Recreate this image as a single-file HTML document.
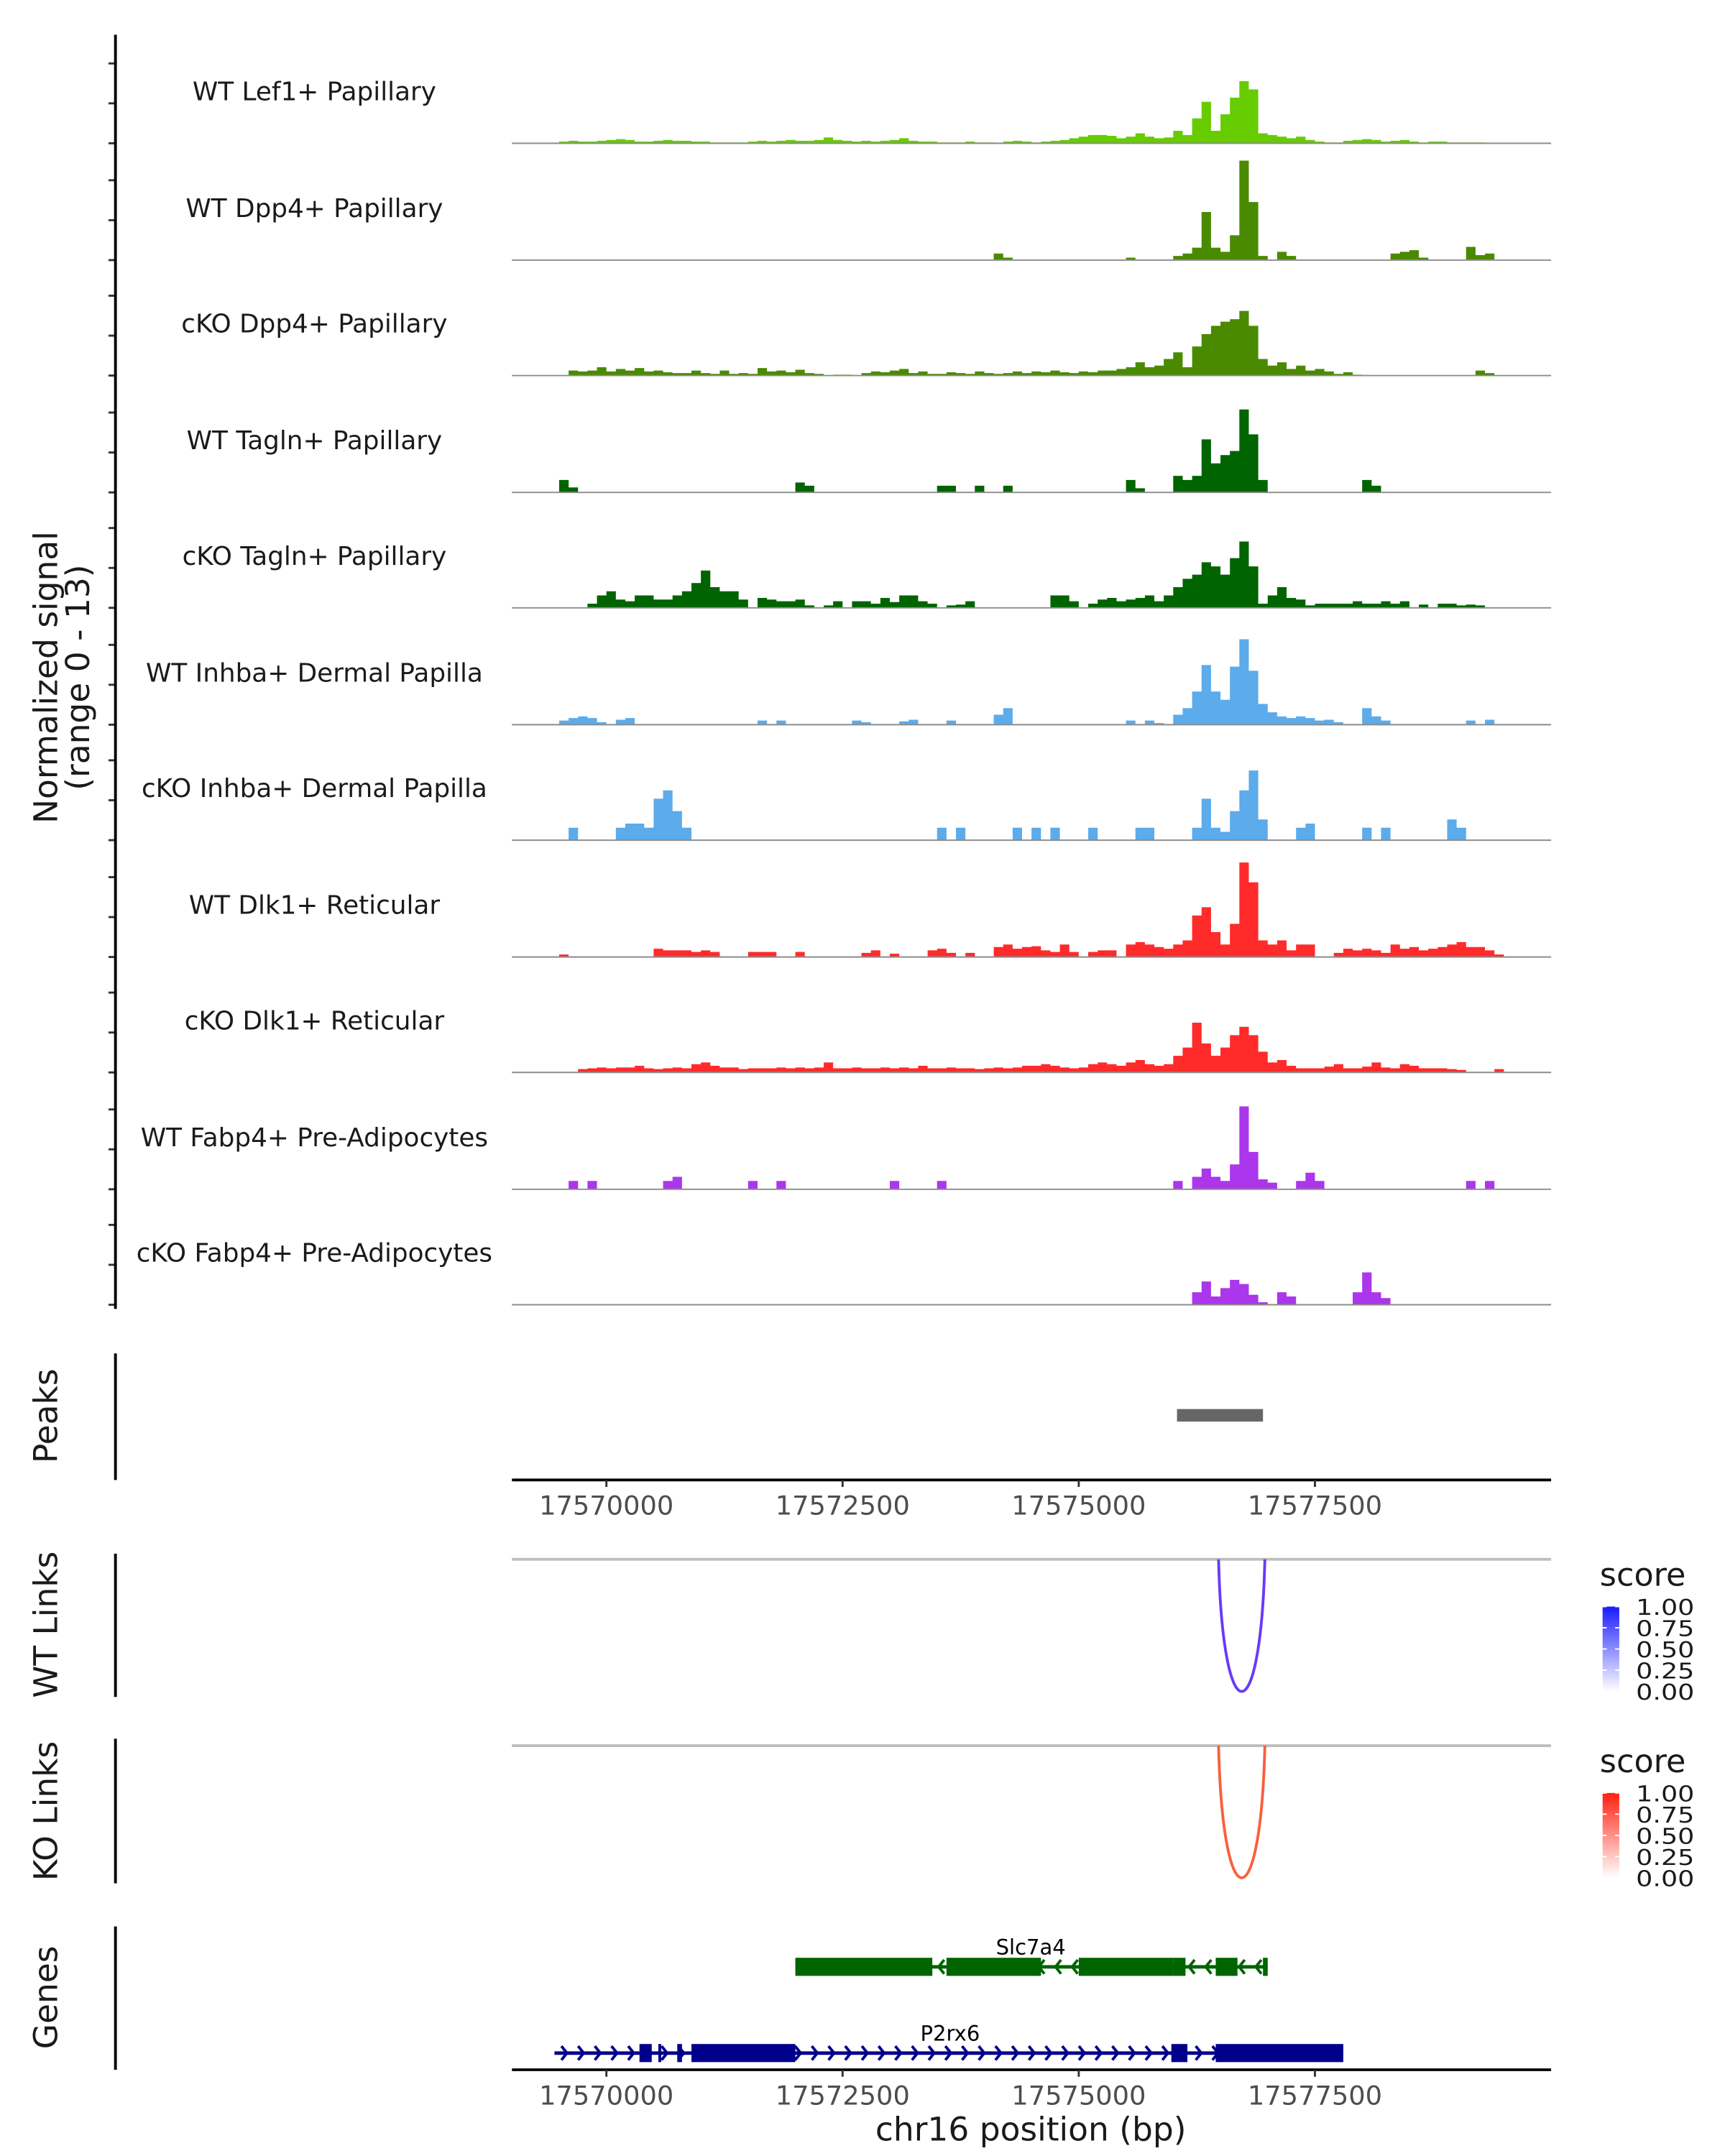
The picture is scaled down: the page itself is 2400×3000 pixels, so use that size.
<!DOCTYPE html>
<html><head><meta charset="utf-8">
<style>
html,body{margin:0;padding:0;background:#fff;}
svg{display:block;}
text{font-family:"DejaVu Sans","Liberation Sans",sans-serif;}
</style></head>
<body>
<svg id="chart" xmlns="http://www.w3.org/2000/svg" width="2400" height="3000" viewBox="0 0 1240 1550">
<g id="tracks"></g>
<g id="axes"></g>
<g id="genes"></g>
<defs>
<linearGradient id="gblue" x1="0" y1="1" x2="0" y2="0"><stop offset="0" stop-color="#ffffff"/><stop offset="1" stop-color="#1a1aff"/></linearGradient>
<linearGradient id="gred" x1="0" y1="1" x2="0" y2="0"><stop offset="0" stop-color="#ffffff"/><stop offset="1" stop-color="#ff2010"/></linearGradient>
</defs>
</svg>
<script>
// ---- data ----
const xStart = 17569000, xEnd = 17580000, binSize = 100;
const trackNames = ["WT Lef1+ Papillary","WT Dpp4+ Papillary","cKO Dpp4+ Papillary","WT Tagln+ Papillary","cKO Tagln+ Papillary","WT Inhba+ Dermal Papilla","cKO Inhba+ Dermal Papilla","WT Dlk1+ Reticular","cKO Dlk1+ Reticular","WT Fabp4+ Pre-Adipocytes","cKO Fabp4+ Pre-Adipocytes"];
const trackColors = ["#66cc00","#4a8a00","#4a8a00","#006400","#006400","#5cabea","#5cabea","#ff2a2a","#ff2a2a","#ab36ec","#ab36ec"];
const xTicks = [17570000,17572500,17575000,17577500];
const yMax = 13;
// sparse signal: bin index -> value
const sigLef1WT = {5:0.2,6:0.3,7:0.2,8:0.2,9:0.3,10:0.4,11:0.5,12:0.4,13:0.2,14:0.2,15:0.3,16:0.4,17:0.3,18:0.3,19:0.2,20:0.2,21:0.1,22:0.1,23:0.1,24:0.1,25:0.2,26:0.3,27:0.2,28:0.3,29:0.4,30:0.3,31:0.3,32:0.4,33:0.7,34:0.4,35:0.3,36:0.2,37:0.3,38:0.2,39:0.3,40:0.4,41:0.6,42:0.3,43:0.2,44:0.2,45:0.1,46:0.1,47:0.1,48:0.2,49:0.1,50:0.1,52:0.2,53:0.3,54:0.2,55:0.1,56:0.2,57:0.3,58:0.4,59:0.6,60:0.8,61:1.0,62:1.0,63:0.9,64:0.6,65:0.8,66:1.2,67:0.8,68:0.6,69:0.7,70:1.5,71:1.0,72:3.0,73:5.0,74:1.5,75:3.5,76:5.5,77:7.5,78:6.5,79:1.2,80:1.0,81:0.8,82:0.6,83:0.8,84:0.4,85:0.2,86:0.1,87:0.1,88:0.3,89:0.4,90:0.5,91:0.4,92:0.2,93:0.3,94:0.4,95:0.2,96:0.1,97:0.2,98:0.2,99:0.1,100:0.1,101:0.1,102:0.1};
const sigDpp4WT = {51:0.8,52:0.3,65:0.3,70:0.5,71:0.8,72:1.5,73:5.8,74:1.5,75:1.0,76:3.0,77:12,78:7,79:0.5,81:1.0,82:0.5,93:0.8,94:1.0,95:1.2,96:0.3,101:1.6,102:0.6,103:0.8};
const sigDpp4KO = {6:0.6,7:0.5,8:0.6,9:1.0,10:0.5,11:0.8,12:0.6,13:0.9,14:0.5,15:0.6,16:0.4,17:0.3,18:0.3,19:0.6,20:0.3,21:0.2,22:0.6,23:0.2,24:0.3,25:0.2,26:0.9,27:0.5,28:0.6,29:0.4,30:0.7,31:0.3,32:0.2,34:0.1,35:0.1,37:0.3,38:0.5,39:0.4,40:0.6,41:0.8,42:0.3,43:0.5,44:0.2,45:0.2,46:0.4,47:0.3,48:0.2,49:0.5,50:0.3,51:0.2,52:0.3,53:0.5,54:0.3,55:0.5,56:0.4,57:0.6,58:0.4,59:0.3,60:0.5,61:0.4,62:0.6,63:0.6,64:0.8,65:1.0,66:1.6,67:1.0,68:1.2,69:2.0,70:2.8,71:1.0,72:3.5,73:5.0,74:6.0,75:6.5,76:6.8,77:7.8,78:6.0,79:2.0,80:1.2,81:1.6,82:0.8,83:1.2,84:0.6,85:0.8,86:0.5,87:0.2,88:0.4,89:0.1,102:0.6,103:0.3};
const sigTaglnWT = {5:1.5,6:0.6,30:1.2,31:0.8,45:0.8,46:0.8,49:0.8,52:0.8,65:1.5,66:0.5,70:2.0,71:1.5,72:2.0,73:6.4,74:3.5,75:4.5,76:5.0,77:10,78:7,79:1.5,90:1.5,91:0.8};
const sigTaglnKO = {8:0.5,9:1.5,10:2.0,11:1.0,12:0.8,13:1.5,14:1.5,15:1.0,16:1.0,17:1.5,18:2.0,19:3.0,20:4.5,21:2.5,22:2.0,23:2.0,24:1.0,26:1.2,27:1.0,28:0.8,29:0.8,30:1.0,31:0.3,33:0.3,34:0.8,36:0.8,37:0.8,38:0.5,39:1.2,40:0.7,41:1.5,42:1.5,43:0.8,44:0.5,46:0.3,47:0.4,48:0.8,57:1.5,58:1.5,59:0.8,61:0.5,62:1.0,63:1.2,64:0.8,65:1.0,66:1.2,67:1.5,68:0.8,69:1.5,70:2.5,71:3.5,72:4.0,73:5.5,74:5.0,75:4.0,76:6.0,77:8.0,78:5.0,79:0.5,80:1.5,81:2.5,82:1.2,83:1.0,84:0.3,85:0.5,86:0.5,87:0.5,88:0.5,89:0.8,90:0.5,91:0.5,92:0.8,93:0.5,94:0.8,96:0.4,98:0.5,99:0.5,100:0.3,101:0.4,102:0.3};
const sigInhbaWT = {5:0.5,6:0.8,7:1.0,8:0.8,9:0.3,11:0.6,12:0.8,26:0.5,28:0.5,36:0.5,37:0.3,41:0.4,42:0.6,46:0.5,51:1.2,52:2.0,65:0.5,67:0.5,68:0.2,70:1.2,71:2.0,72:4.0,73:7.2,74:4.0,75:3.0,76:7.0,77:10.3,78:6.5,79:2.5,80:1.5,81:1.0,82:0.8,83:1.0,84:0.8,85:0.5,86:0.6,87:0.3,90:2.0,91:1.0,92:0.5,101:0.5,103:0.6};
const sigInhbaKO = {6:1.5,11:1.5,12:2.0,13:2.0,14:1.5,15:5.0,16:6.0,17:3.5,18:1.5,45:1.5,47:1.5,53:1.5,55:1.5,57:1.5,61:1.5,66:1.5,67:1.5,72:1.5,73:5.0,74:1.5,75:1.0,76:3.5,77:6.0,78:8.4,79:2.5,83:1.5,84:2.0,90:1.5,92:1.5,99:2.5,100:1.5};
const sigDlk1WT = {5:0.3,15:1.0,16:0.8,17:0.8,18:0.8,19:0.6,20:0.8,21:0.6,25:0.6,26:0.6,27:0.6,30:0.6,37:0.5,38:0.8,40:0.4,44:0.8,45:1.0,46:0.5,48:0.5,51:1.2,52:1.5,53:1.0,54:1.2,55:1.3,56:0.8,57:0.6,58:1.5,59:0.6,61:0.6,62:0.8,63:0.8,65:1.5,66:1.8,67:1.5,68:1.2,69:1.0,70:1.5,71:2.0,72:5.0,73:6.0,74:3.0,75:1.5,76:4.0,77:11.4,78:9.0,79:2.0,80:1.5,81:2.0,82:0.8,83:1.5,84:1.5,87:0.5,88:1.0,89:0.8,90:1.0,91:0.8,92:0.5,93:1.5,94:1.0,95:1.2,96:0.8,97:1.0,98:1.2,99:1.5,100:1.8,101:1.2,102:1.2,103:0.8,104:0.3};
const sigDlk1KO = {7:0.4,8:0.5,9:0.6,10:0.5,11:0.6,12:0.6,13:0.8,14:0.5,15:0.4,16:0.5,17:0.6,18:0.5,19:1.0,20:1.2,21:0.8,22:0.6,23:0.6,24:0.4,25:0.5,26:0.5,27:0.5,28:0.6,29:0.5,30:0.6,31:0.5,32:0.6,33:1.2,34:0.5,35:0.5,36:0.6,37:0.5,38:0.5,39:0.6,40:0.5,41:0.6,42:0.5,43:0.8,44:0.5,45:0.5,46:0.6,47:0.5,48:0.5,49:0.4,50:0.5,51:0.6,52:0.5,53:0.6,54:0.8,55:0.8,56:1.0,57:0.8,58:0.6,59:0.5,60:0.6,61:1.0,62:1.2,63:1.0,64:0.8,65:1.2,66:1.5,67:1.0,68:0.8,69:1.0,70:2.0,71:3.0,72:6.0,73:3.5,74:2.0,75:3.0,76:4.5,77:5.5,78:4.5,79:2.5,80:1.2,81:1.5,82:0.8,83:0.5,84:0.5,85:0.5,86:0.7,87:1.0,88:0.5,89:0.5,90:0.7,91:1.2,92:0.6,93:0.5,94:1.0,95:0.8,96:0.5,97:0.5,98:0.5,99:0.4,100:0.3,104:0.4};
const sigFabp4WT = {6:1.0,8:1.0,16:1.0,17:1.5,25:1.0,28:1.0,40:1.0,45:1.0,70:1.0,72:1.5,73:2.5,74:1.5,75:1.0,76:3.0,77:10,78:4.5,79:1.2,80:0.8,83:1.0,84:2.0,85:1.0,101:1.0,103:1.0};
const sigFabp4KO = {72:1.5,73:2.8,74:1.0,75:2.0,76:3.0,77:2.5,78:1.2,79:0.3,81:1.5,82:1.0,89:1.5,90:3.9,91:1.5,92:0.8};
const signals = [sigLef1WT,sigDpp4WT,sigDpp4KO,sigTaglnWT,sigTaglnKO,sigInhbaWT,sigInhbaKO,sigDlk1WT,sigDlk1KO,sigFabp4WT,sigFabp4KO];
const peakStart = [17576040], peakEnd = [17576950];
const wtLinkStart = [17576480], wtLinkEnd = [17576970], wtLinkScore = [0.8];
const koLinkStart = [17576480], koLinkEnd = [17576970], koLinkScore = [0.7];
const legendTicks = ["1.00","0.75","0.50","0.25","0.00"];
// genes
const slcExonStart = [17572000,17573600,17575000,17576000,17576450,17576950];
const slcExonEnd   = [17573450,17574600,17576000,17576130,17576680,17577000];
const p2rxExonStart = [17570350,17570550,17570750,17570900,17575980,17576450];
const p2rxExonEnd   = [17570480,17570580,17570800,17572000,17576150,17577800];

// ---- scales ----
const NS="http://www.w3.org/2000/svg";
const X0=368, X1=1115;
const xs = p => X0 + (p - xStart) / (xEnd - xStart) * (X1 - X0);
const baselines = [103,187,270,354,437,521,604,688,771,855,938];
const trackH = 83.5;
function el(tag, attrs, parent, text){const e=document.createElementNS(NS,tag);for(const k in attrs)e.setAttribute(k,attrs[k]);if(text!==undefined)e.textContent=text;parent.appendChild(e);return e;}
const tracksG=document.getElementById('tracks'), axesG=document.getElementById('axes'), genesG=document.getElementById('genes');

const nb = Math.round((xEnd-xStart)/binSize);
signals.forEach((sig,i)=>{
  const b = baselines[i];
  const ys = v => b - v / yMax * (trackH - 6);
  let d = `M${X0} ${b}`;
  for(let k=0;k<nb;k++){const v=sig[k]||0;const a=xs(xStart+k*binSize),c=xs(xStart+(k+1)*binSize);
    d+=` L${a.toFixed(2)} ${ys(v).toFixed(2)} L${c.toFixed(2)} ${ys(v).toFixed(2)}`;}
  d += ` L${X1} ${b} Z`;
  const p=el('path',{d:d,fill:trackColors[i],stroke:'none'},tracksG);
  
  
  const l=el('line',{x1:X0,x2:X1,y1:b,y2:b,stroke:'#8c8c8c','stroke-width':1},tracksG);
  
  
  const t=el('text',{x:226,y:b-31,'text-anchor':'middle','font-size':18.5,fill:'#1a1a1a'},tracksG,trackNames[i]);
  
  
  for(let k=0;k<3;k++){
    const tk=el('line',{x1:78,x2:83,y1:b-k*28.7,y2:b-k*28.7,stroke:'#333','stroke-width':1.5},axesG);
    
    
  }
});
function vline(y1,y2,name){const l=el('line',{x1:83,x2:83,y1:y1,y2:y2,stroke:'#000','stroke-width':2},axesG);}
vline(25,941,'signal-y-axis');vline(973,1064,'peaks-y-axis');vline(1117,1220,'wt-links-y-axis');vline(1250,1354,'ko-links-y-axis');vline(1385,1488,'genes-y-axis');
function vtitle(x,y,lines,name){const t=el('text',{transform:`translate(${x},${y}) rotate(-90)`,'text-anchor':'middle','font-size':23.5,fill:'#1a1a1a'},axesG);
  lines.forEach((s,j)=>{el('tspan',{x:0,dy:j?23:0},t,s);});}
vtitle(41,487,["Normalized signal","(range 0 - 13)"],'y-axis-title');
vtitle(41,1018,["Peaks"],'peaks-title');vtitle(41,1168,["WT Links"],'wt-links-title');vtitle(41,1302,["KO Links"],'ko-links-title');vtitle(41,1436,["Genes"],'genes-title');
peakStart.forEach((s,i)=>{const r=el('rect',{x:xs(s),y:1013,width:xs(peakEnd[i])-xs(s),height:9,fill:'#666666'},axesG);});
function xaxis(y,name){const l=el('line',{x1:X0,x2:X1,y1:y,y2:y,stroke:'#000','stroke-width':2},axesG);
  xTicks.forEach(v=>{const tk=el('line',{x1:xs(v),x2:xs(v),y1:y,y2:y+5,stroke:'#333','stroke-width':1.5},axesG);
  const t=el('text',{x:xs(v),y:y+25,'text-anchor':'middle','font-size':19,fill:'#4d4d4d'},axesG,String(v));});}
xaxis(1064,'peaks-x-axis');xaxis(1488,'genes-x-axis');
const xt=el('text',{x:741,y:1539,'text-anchor':'middle','font-size':23.5,fill:'#1a1a1a'},axesG,'chr16 position (bp)');
function links(top,starts,ends,scores,grad,col,name){
  const g=el('line',{x1:X0,x2:X1,y1:top,y2:top,stroke:'#bebebe','stroke-width':2},axesG);
  starts.forEach((s,i)=>{const a=xs(s),b=xs(ends[i]);const depth=95;
    const p=el('path',{d:`M${a} ${top} C${a+3} ${top+depth/0.75},${b-3} ${top+depth/0.75},${b} ${top}`,fill:'none',stroke:col,'stroke-width':2},axesG);
    });
  const lt=el('text',{x:1150,y:top+19,'font-size':23,fill:'#1a1a1a'},axesG,'score');
  const r=el('rect',{x:1152,y:top+34,width:12,height:61,fill:`url(#${grad})`},axesG);
  legendTicks.forEach((s,j)=>{const yy=top+34+j*15.25;const t=el('text',{x:1176,y:yy+6,'font-size':15.5,fill:'#1a1a1a',textLength:42,lengthAdjust:'spacingAndGlyphs'},axesG,s);
    el('line',{x1:1152,x2:1155,y1:yy,y2:yy,stroke:'#fff','stroke-width':1},axesG);el('line',{x1:1161,x2:1164,y1:yy,y2:yy,stroke:'#fff','stroke-width':1},axesG);});
}
links(1121,wtLinkStart,wtLinkEnd,wtLinkScore,'gblue','#6a3af6','wt-link');
links(1255,koLinkStart,koLinkEnd,koLinkScore,'gred','#f8603e','ko-link');
function gene(y,starts,ends,col,dir,name,lx,lineStart,lineEnd){
  const ln=el('line',{x1:xs(lineStart),x2:xs(lineEnd),y1:y,y2:y,stroke:col,'stroke-width':2.5},genesG);
  for(let x=xs(lineStart)+8;x<xs(lineEnd)-3;x+=12){const d=dir>0?`M${x-3} ${y-5} L${x+1} ${y} L${x-3} ${y+5}`:`M${x+3} ${y-5} L${x-1} ${y} L${x+3} ${y+5}`;
    const c=el('path',{d:d,fill:'none',stroke:col,'stroke-width':2},genesG);}
  starts.forEach((s,i)=>{const r=el('rect',{x:xs(s),y:y-6.5,width:Math.max(2,xs(ends[i])-xs(s)),height:13,fill:col},genesG);});
  const t=el('text',{x:lx,y:y-9,'text-anchor':'middle','font-size':15,fill:'#000'},genesG,name);
}
gene(1414,slcExonStart,slcExonEnd,'#006400',-1,'Slc7a4',741,17572000,17577000);
gene(1476,p2rxExonStart,p2rxExonEnd,'#00008b',1,'P2rx6',683,17569450,17577800);
</script>
</body></html>
